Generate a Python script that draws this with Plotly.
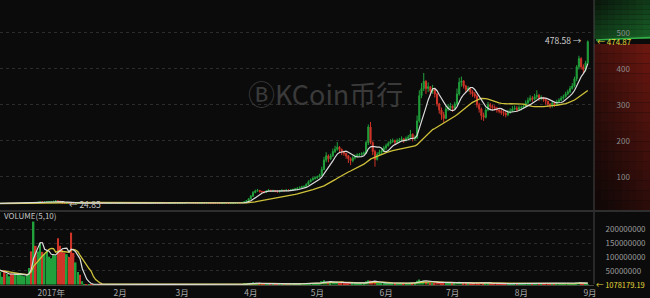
import plotly.graph_objects as go
import pandas as pd
import numpy as np

# ---------------- data : LTC/CNY daily (OKCoin) ----------------
first_open = 25.3
start_date = "2016-12-06"
end_date = "2017-08-31"

dec_close = [25.4, 25.6, 25.5, 25.6, 25.8, 25.5, 25.7, 25.9, 25.6, 25.4, 25.5, 25.7, 25.9,
             26.3, 26.8, 27.5, 28.4, 27.9, 28.2, 28.0, 29.1, 30.2, 29.5, 30.0, 30.4, 31.0]
dec_high = [25.9, 26.0, 25.9, 26.0, 26.2, 26.0, 26.1, 26.3, 26.1, 25.9, 25.9, 26.1, 26.3,
            26.8, 27.3, 28.0, 29.4, 28.8, 28.7, 28.6, 29.8, 31.2, 30.6, 30.5, 31.0, 31.8]
dec_low = [25.0, 25.1, 25.1, 25.2, 25.3, 25.1, 25.3, 25.4, 25.2, 25.0, 25.1, 25.3, 25.5,
           25.8, 26.1, 26.7, 27.3, 27.4, 27.6, 27.5, 28.0, 29.0, 29.0, 29.3, 29.8, 30.2]
dec_vol = [60, 55, 50, 45, 28, 52, 38, 30, 40, 36, 42, 35, 38, 33,
           30, 35, 60, 120, 228, 140, 120, 150, 118, 110, 125, 100]

jan_close = [31.2, 31.8, 32.6, 32.0, 29.0, 26.5, 26.2, 27.0, 26.8, 26.4, 26.2, 26.5, 26.7, 26.6,
             26.8, 27.1, 26.9, 27.2, 26.9, 26.7, 26.9, 26.8, 26.7, 26.5, 26.4, 26.5, 26.6, 26.6,
             26.5, 26.4, 26.6]
jan_high = [31.9, 32.5, 34.5, 33.8, 32.4, 29.5, 27.0, 27.5, 27.4, 27.0, 26.8, 26.9, 27.1, 27.0,
            27.2, 27.5, 27.3, 27.6, 27.3, 27.1, 27.2, 27.1, 27.0, 26.9, 26.7, 26.8, 26.9, 26.9,
            26.8, 26.7, 26.9]
jan_low = [30.5, 31.0, 31.5, 31.2, 28.2, 25.8, 24.85, 26.1, 26.4, 26.0, 25.8, 26.0, 26.3, 26.3,
           26.4, 26.6, 26.6, 26.8, 26.6, 26.4, 26.5, 26.5, 26.4, 26.3, 26.2, 26.2, 26.3, 26.4,
           26.3, 26.2, 26.3]
jan_vol = [95, 110, 105, 168, 140, 125, 115, 110, 100, 188, 114, 80, 45, 35, 12,
           1.8, 1.5, 1.3, 1.2, 1.4, 1.1, 1.0, 1.2, 1.3, 0.9, 0.8, 1.0, 0.9, 0.8, 1.1, 0.9]

feb_close = [26.8, 27.0, 27.2, 27.0, 26.9, 26.8, 27.0, 26.6, 26.7, 26.9, 26.8, 26.7, 26.7, 26.6,
             26.8, 26.9, 26.8, 26.8, 26.9, 26.9, 26.8, 26.6, 26.7, 26.9, 26.9, 26.8, 26.9, 27.0]
feb_high = [27.1, 27.3, 27.5, 27.4, 27.2, 27.1, 27.3, 27.1, 27.0, 27.2, 27.1, 27.0, 27.0, 26.9,
            27.1, 27.2, 27.1, 27.1, 27.2, 27.2, 27.1, 27.0, 27.0, 27.2, 27.2, 27.1, 27.2, 27.3]
feb_low = [26.3, 26.6, 26.8, 26.7, 26.6, 26.5, 26.6, 26.3, 26.4, 26.5, 26.5, 26.4, 26.4, 26.3,
           26.4, 26.6, 26.5, 26.5, 26.6, 26.6, 26.5, 26.3, 26.4, 26.5, 26.6, 26.5, 26.6, 26.7]
feb_vol = [0.9, 1.0, 1.1, 0.8, 0.7, 0.8, 0.9, 1.0, 0.8, 0.7, 0.9, 0.8, 0.7, 0.8,
           0.9, 0.8, 0.7, 0.8, 0.9, 0.8, 0.7, 0.8, 0.9, 1.0, 0.8, 0.7, 0.8, 0.9]

mar_close = [27.2, 27.8, 28.5, 28.2, 27.8, 27.6, 27.2, 26.8, 26.9, 27.0, 26.8, 27.1, 26.9, 26.8,
             26.7, 26.4, 26.0, 25.8, 26.3, 26.6, 26.5, 26.2, 26.4, 26.6, 27.2, 27.5, 27.4, 28.6,
             30.2, 33.0, 38.5]
mar_high = [27.5, 28.3, 29.2, 28.8, 28.3, 28.0, 27.7, 27.3, 27.2, 27.4, 27.2, 27.4, 27.3, 27.1,
            27.0, 26.9, 26.5, 26.2, 26.6, 26.9, 26.9, 26.6, 26.7, 26.9, 27.6, 27.9, 27.9, 29.2,
            31.0, 34.5, 40.5]
mar_low = [26.8, 27.1, 27.6, 27.8, 27.4, 27.2, 26.9, 26.5, 26.5, 26.7, 26.5, 26.7, 26.6, 26.5,
           26.4, 26.1, 25.7, 25.4, 25.7, 26.2, 26.2, 25.9, 26.1, 26.3, 26.5, 27.1, 27.0, 27.3,
           28.4, 30.0, 32.5]
mar_vol = [0.8, 1.0, 1.2, 0.9, 0.8, 0.7, 0.8, 0.9, 0.7, 0.8, 0.7, 0.8, 0.9, 0.7,
           0.8, 0.9, 1.0, 1.1, 0.9, 0.8, 0.7, 0.8, 0.8, 0.9, 1.0, 1.0, 0.9, 1.5, 2.2, 3.0, 4.5]

apr_close = [46, 56, 60, 62, 59, 58, 57, 60, 62, 60, 61, 60, 58, 60, 62,
             61, 63, 62, 63, 64, 66, 68, 70, 72, 73, 78, 86, 91, 95, 97]
apr_high = [49, 60, 64, 66, 63, 61, 60, 63, 66, 64, 64, 63, 62, 63, 65,
            64, 66, 65, 66, 67, 69, 71, 73, 75, 76, 82, 90, 95, 99, 101]
apr_low = [37, 44, 54, 58, 56, 55, 54, 55, 58, 58, 58, 57, 56, 56, 59,
           59, 60, 60, 61, 61, 63, 65, 67, 69, 70, 72, 77, 84, 89, 92]
apr_vol = [6, 8, 5, 4, 3, 3, 2.5, 3, 3.5, 2.5, 2, 2, 2.5, 2, 2.2,
           2, 2.4, 2, 2.1, 2.3, 2.6, 2.8, 3, 3.2, 3, 4, 5, 4.5, 4, 3.8]

may_close = [100, 104, 120, 146, 158, 150, 158, 170, 176, 182, 176, 170, 165, 158, 150, 145,
             152, 157, 160, 162, 164, 166, 195, 238, 195, 170, 148, 162, 168, 172, 180]
may_high = [103, 108, 128, 155, 168, 162, 164, 178, 186, 196, 185, 178, 172, 166, 160, 154,
            158, 162, 165, 166, 168, 170, 200, 245, 252, 198, 175, 168, 175, 178, 186]
may_low = [94, 98, 102, 118, 140, 140, 146, 155, 166, 172, 168, 160, 158, 150, 138, 132,
           140, 148, 154, 156, 158, 160, 164, 188, 190, 160, 128, 145, 158, 163, 168]
may_vol = [4, 5, 12, 15, 10, 8, 7, 9, 8, 10, 7, 6, 5, 6, 7, 8,
           5, 4, 4, 4, 4, 5, 12, 15, 14, 10, 9, 6, 5, 5, 6]

jun_close = [186, 192, 198, 200, 196, 200, 202, 205, 200, 206, 210, 218, 205, 208, 255,
             325, 345, 365, 345, 350, 338, 342, 330, 302, 285, 272, 262, 288, 292, 296]
jun_high = [192, 198, 204, 206, 203, 206, 208, 212, 208, 212, 216, 230, 220, 215, 270,
            340, 360, 388, 368, 362, 352, 355, 345, 332, 305, 292, 280, 298, 302, 305]
jun_low = [175, 184, 190, 194, 190, 193, 196, 199, 194, 198, 204, 208, 198, 200, 205,
           250, 318, 338, 330, 335, 325, 330, 320, 295, 275, 258, 250, 260, 282, 286]
jun_vol = [6, 5, 5, 4, 4, 4, 4, 5, 4, 4, 5, 7, 6, 5, 14,
           18, 12, 14, 10, 8, 7, 6, 7, 9, 8, 7, 6, 7, 5, 5]

jul_close = [290, 302, 330, 362, 366, 352, 342, 346, 336, 330, 324, 300, 288, 270, 265, 285,
             300, 296, 292, 290, 285, 282, 278, 276, 272, 278, 282, 288, 290, 286, 292]
jul_high = [298, 308, 345, 375, 378, 368, 355, 352, 348, 340, 335, 328, 305, 292, 278, 292,
            308, 305, 300, 298, 294, 290, 287, 284, 282, 286, 290, 296, 298, 296, 298]
jul_low = [280, 286, 298, 325, 350, 345, 334, 336, 328, 322, 318, 292, 278, 258, 255, 262,
           282, 288, 285, 284, 278, 276, 272, 268, 265, 268, 275, 280, 284, 280, 284]
jul_vol = [5, 5, 8, 10, 9, 7, 5, 5, 4, 4, 5, 7, 7, 8, 6, 5,
           5, 4, 4, 3, 3, 3, 3, 3, 3, 3, 3, 3, 3, 3, 3]

aug_close = [292, 296, 305, 312, 318, 315, 322, 326, 318, 320, 315, 310, 302, 298, 305, 300,
             308, 312, 318, 322, 330, 336, 345, 352, 372, 405, 428, 405, 398, 416, 474.87]
aug_high = [298, 300, 312, 320, 326, 324, 330, 340, 330, 326, 322, 318, 310, 304, 310, 308,
            314, 318, 324, 328, 336, 342, 352, 360, 378, 410, 436, 432, 412, 422, 478.58]
aug_low = [284, 288, 294, 302, 308, 308, 312, 316, 310, 312, 308, 300, 294, 290, 292, 294,
           298, 304, 310, 314, 320, 326, 332, 342, 348, 365, 398, 398, 388, 392, 412]
aug_vol = [3, 3, 4, 4, 4, 3, 4, 4, 3, 3, 3, 3, 3, 3, 3, 3,
           3, 3, 3, 3, 3, 3, 4, 4, 5, 7, 8, 6, 5, 4, 1.07817919]

tick_dates = ["2017-01-01", "2017-02-01", "2017-03-01", "2017-04-01", "2017-05-01",
              "2017-06-01", "2017-07-01", "2017-08-01", "2017-09-01"]
tick_text = ["2017年", "2月", "3月", "4月", "5月", "6月", "7月", "8月", "9月"]
price_ticks = [100, 200, 300, 400, 500]
vol_ticks = [50000000, 100000000, 150000000, 200000000]

# ---------------- assemble ----------------
close = dec_close + jan_close + feb_close + mar_close + apr_close + may_close + jun_close + jul_close + aug_close
high = dec_high + jan_high + feb_high + mar_high + apr_high + may_high + jun_high + jul_high + aug_high
low = dec_low + jan_low + feb_low + mar_low + apr_low + may_low + jun_low + jul_low + aug_low
vol_m = dec_vol + jan_vol + feb_vol + mar_vol + apr_vol + may_vol + jun_vol + jul_vol + aug_vol
dates = pd.date_range(start_date, end_date, freq="D")
n = len(dates)
assert len(close) == n and len(high) == n and len(low) == n and len(vol_m) == n
opn = [first_open] + close[:-1]
vol = [v * 1e6 for v in vol_m]

ma7 = pd.Series(close).rolling(7, min_periods=1).mean()
ma30 = pd.Series(close).rolling(30, min_periods=1).mean()
vma5 = pd.Series(vol).rolling(5, min_periods=1).mean()
vma10 = pd.Series(vol).rolling(10, min_periods=1).mean()

UP = "#21a03b"
DN = "#cf3429"
WHITE_MA = "#dcdcdc"
YELLOW_MA = "#cfc23a"
BG = "#0b0b0b"
FONT = "Noto Sans CJK SC"

vcolors = [UP if c >= o else DN for o, c in zip(opn, close)]

fig = go.Figure()
fig.add_trace(go.Candlestick(
    x=dates, open=opn, high=high, low=low, close=close,
    increasing=dict(line=dict(color=UP, width=1), fillcolor=UP),
    decreasing=dict(line=dict(color=DN, width=1), fillcolor=DN),
    xaxis="x", yaxis="y", showlegend=False))
fig.add_trace(go.Scatter(x=dates, y=ma30, mode="lines", line=dict(color=YELLOW_MA, width=1.3),
                         xaxis="x", yaxis="y", showlegend=False))
fig.add_trace(go.Scatter(x=dates, y=ma7, mode="lines", line=dict(color=WHITE_MA, width=1.2),
                         xaxis="x", yaxis="y", showlegend=False))
fig.add_trace(go.Bar(x=dates, y=vol, marker=dict(color=vcolors, line=dict(width=0)),
                     xaxis="x2", yaxis="y2", showlegend=False))
fig.add_trace(go.Scatter(x=dates, y=vma10, mode="lines", line=dict(color=YELLOW_MA, width=1.3),
                         xaxis="x2", yaxis="y2", showlegend=False))
fig.add_trace(go.Scatter(x=dates, y=vma5, mode="lines", line=dict(color=WHITE_MA, width=1.2),
                         xaxis="x2", yaxis="y2", showlegend=False))

W, H = 650, 298
PW, PH = 594, 285


def pxx(x):
    return x / PW


def pxy(y):
    return 1 - y / PH


xrange = ["2016-12-08 20:40", "2017-09-02 19:15"]
grid = dict(showgrid=True, gridcolor="#2c2c2c", griddash="dot", gridwidth=1)

fig.update_layout(
    width=W, height=H, margin=dict(l=0, r=W - PW, t=0, b=H - PH),
    paper_bgcolor=BG, plot_bgcolor=BG, showlegend=False, bargap=0.25,
    font=dict(family=FONT, color="#9a9a9a", size=8),
    xaxis=dict(domain=[0, 1], anchor="y", range=xrange, type="date", showticklabels=False,
               showgrid=False, zeroline=False, rangeslider=dict(visible=False), ticks=""),
    xaxis2=dict(domain=[0, 1], anchor="y2", range=xrange, type="date", matches="x",
                tickvals=tick_dates, ticktext=tick_text, showgrid=False, zeroline=False,
                showline=True, linecolor="#4a4a40", linewidth=1, ticks="",
                tickfont=dict(family=FONT, size=8.5, color="#a8a8a8")),
    yaxis=dict(domain=[pxy(210), 1], anchor="x", side="right", range=[7.5, 590.8],
               tickvals=price_ticks, ticktext=[str(v) for v in price_ticks],
               ticks="outside", ticklen=20, tickcolor="rgba(0,0,0,0)", zeroline=False,
               tickfont=dict(family=FONT, size=8, color="#8c8c8c"), **grid),
    yaxis2=dict(domain=[0, pxy(212)], anchor="x2", side="right", range=[-1.8e6, 262.7e6],
                tickvals=vol_ticks, ticktext=[str(v) for v in vol_ticks],
                ticks="outside", ticklen=9, tickcolor="rgba(0,0,0,0)", zeroline=False,
                tickfont=dict(family=FONT, size=8, color="#9a9a9a"), **grid),
)

# ---------------- right-hand depth gradient ----------------
shapes = []


def lerp(a, b, t):
    t = max(0.0, min(1.0, t))
    return "rgb(%d,%d,%d)" % tuple(int(a[k] + (b[k] - a[k]) * t) for k in range(3))


cols = 8
xs = np.linspace(PW, W, cols + 1)
g_rows = np.linspace(0, 39, 9)
r_rows = np.linspace(44, 210, 18)
for i in range(cols):
    u = (i + 0.5) / cols
    for j in range(len(g_rows) - 1):
        v = (j + 0.5) / (len(g_rows) - 1)
        t = 0.45 * u + 0.55 * v
        shapes.append(dict(type="rect", xref="paper", yref="paper", layer="below",
                           x0=pxx(xs[i]), x1=pxx(xs[i + 1]), y0=pxy(g_rows[j + 1]), y1=pxy(g_rows[j]),
                           fillcolor=lerp((9, 20, 11), (26, 100, 40), t), line=dict(width=0)))
    for j in range(len(r_rows) - 1):
        v = (j + 0.5) / (len(r_rows) - 1)
        t = (0.4 * u + 0.6 * (1 - v)) ** 1.3
        shapes.append(dict(type="rect", xref="paper", yref="paper", layer="below",
                           x0=pxx(xs[i]), x1=pxx(xs[i + 1]), y0=pxy(r_rows[j + 1]), y1=pxy(r_rows[j]),
                           fillcolor=lerp((16, 8, 7), (112, 24, 17), t), line=dict(width=0)))

shapes.append(dict(type="line", xref="paper", yref="paper", x0=pxx(596), x1=pxx(650),
                   y0=pxy(40), y1=pxy(37.5), line=dict(color="#33b148", width=1.5)))
shapes.append(dict(type="line", xref="paper", yref="paper", x0=pxx(PW), x1=pxx(PW),
                   y0=pxy(0), y1=pxy(284), line=dict(color="#464646", width=1)))
shapes.append(dict(type="line", xref="paper", yref="paper", x0=0, x1=pxx(W),
                   y0=pxy(211), y1=pxy(211), line=dict(color="#2e2e2e", width=2)))
fig.update_layout(shapes=shapes)

# ---------------- annotations ----------------
i_hi = int(np.argmax(high))
i_lo = int(np.argmin(low))
ann = [
    dict(x=dates[i_hi], y=high[i_hi], xref="x", yref="y", text=f"{high[i_hi]:.2f} →",
         xanchor="right", yanchor="middle", xshift=-4, showarrow=False,
         font=dict(family=FONT, size=8.5, color="#d0d0d0")),
    dict(x=dates[i_lo], y=low[i_lo], xref="x", yref="y", text=f"← {low[i_lo]:.2f}",
         xanchor="left", yanchor="middle", xshift=2, showarrow=False,
         font=dict(family=FONT, size=8.5, color="#c8c8c8")),
    dict(x=pxx(595), y=close[-1], xref="paper", yref="y", text=f"← {close[-1]:.2f}",
         xanchor="left", yanchor="middle", showarrow=False,
         font=dict(family=FONT, size=8, color="#e4d83a")),
    dict(x=pxx(594), y=vol[-1], xref="paper", yref="y2", text=f"← {vol[-1]:.2f}",
         xanchor="left", yanchor="middle", showarrow=False,
         font=dict(family=FONT, size=7.5, color="#e4d83a")),
    dict(x=pxx(2), y=pxy(215), xref="paper", yref="paper", text="VOLUME(5,10)",
         xanchor="left", yanchor="middle", showarrow=False,
         font=dict(family=FONT, size=8, color="#c4c4c4")),
    dict(x=pxx(325), y=pxy(93), xref="paper", yref="paper", text="ⒷKCoin币行",
         xanchor="center", yanchor="middle", showarrow=False,
         font=dict(family=FONT, size=27, color="#3a3a3a")),
]
fig.update_layout(annotations=ann)

fig.write_html("out.html")
